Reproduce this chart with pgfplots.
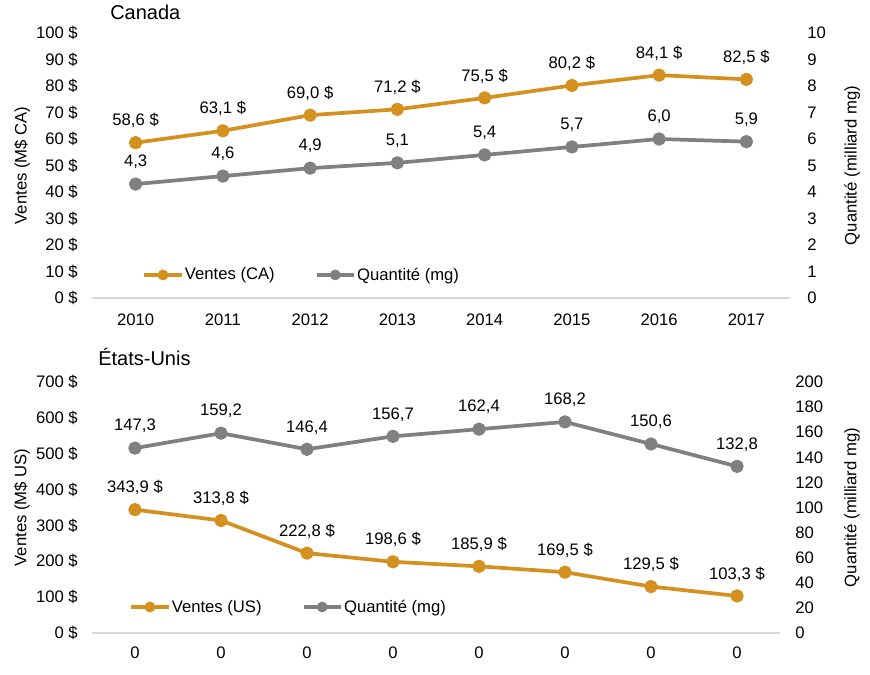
\documentclass[border=0pt]{standalone}
\usepackage{fontspec}
\setmainfont{Liberation Sans}
\usepackage{pgfplots}
\pgfplotsset{compat=1.18}
\usepackage{pgfplotstable}
\definecolor{cOr}{RGB}{213,145,32}
\definecolor{cGr}{RGB}{128,128,128}
\definecolor{cAx}{RGB}{217,217,217}
\newcommand\fs{\fontsize{12.5}{15}\selectfont}
\newcommand\ft{\fontsize{15}{18}\selectfont}

\pgfplotstableread{
x y lab
0 58.6 {58,6 \$}
1 63.1 {63,1 \$}
2 69.0 {69,0 \$}
3 71.2 {71,2 \$}
4 75.5 {75,5 \$}
5 80.2 {80,2 \$}
6 84.1 {84,1 \$}
7 82.5 {82,5 \$}
}\caS
\pgfplotstableread{
x y lab
0 4.3 4,3
1 4.6 4,6
2 4.9 4,9
3 5.1 5,1
4 5.4 5,4
5 5.7 5,7
6 6.0 6,0
7 5.9 5,9
}\caQ
\pgfplotstableread{
x y lab
0 343.9 {343,9 \$}
1 313.8 {313,8 \$}
2 222.8 {222,8 \$}
3 198.6 {198,6 \$}
4 185.9 {185,9 \$}
5 169.5 {169,5 \$}
6 129.5 {129,5 \$}
7 103.3 {103,3 \$}
}\usS
\pgfplotstableread{
x y lab
0 147.3 {147,3}
1 159.2 {159,2}
2 146.4 {146,4}
3 156.7 {156,7}
4 162.4 {162,4}
5 168.2 {168,2}
6 150.6 {150,6}
7 132.8 {132,8}
}\usQ

\pgfplotsset{
  base/.style={scale only axis, xmin=-0.5, xmax=7.5, xtick={0,...,7},
    major tick length=0pt, /pgf/number format/assume math mode=true,
    tick label style={font=\fs}, clip=false, ymin=0},
  leftax/.style={base, axis x line*=bottom, axis y line*=left,
    x axis line style={draw=cAx, line width=0.9pt, -},
    y axis line style={draw=none},
    yticklabel={\pgfmathprintnumber{\tick}~\$},
    yticklabel style={anchor=east, inner sep=0pt, xshift=-10.5pt},
    xticklabel style={anchor=center, inner sep=0pt}},
  rightax/.style={base, axis x line=none, axis y line*=right,
    y axis line style={draw=none},
    yticklabel style={anchor=west, inner sep=0pt}},
  sty/.style={color=#1, line width=2.8pt, mark=*, mark size=3.6pt,
    line join=round, mark options={solid},
    nodes near coords, point meta=explicit symbolic,
    every node near coord/.style={font=\fs, text=black, anchor=center, yshift=16.5pt}},
  leg/.style={legend columns=2,
    legend image code/.code={\draw[mark repeat=2,mark phase=2,##1, mark size=2.6pt] plot coordinates {(0pt,0pt) (14pt,0pt) (28pt,0pt)};},
    legend style={draw=none, fill=none, inner sep=0pt, font=\fs,
      nodes={inner sep=1pt},
      /tikz/every even column/.append style={column sep=29pt}}}
}

\begin{document}
\begin{tikzpicture}
\useasboundingbox (0,0) rectangle (652.5pt,505.5pt);
% ---------- Canada ----------
\begin{axis}[leftax, at={(69pt,282pt)}, anchor=south west,
  width=523.5pt, height=198.75pt, ymax=100, ytick={0,10,...,100},
  xticklabels={2010,2011,2012,2013,2014,2015,2016,2017},
  xticklabel style={yshift=-16.5pt},
  every axis y label/.style={at={(axis description cs:-0.1,0.5)}, rotate=90, anchor=center, font=\fs},
  ylabel={Ventes (M\$ CA)}]
\addplot[sty=cOr] table[x=x, y=y, meta=lab] {\caS};
\end{axis}
\begin{axis}[rightax, at={(69pt,282pt)}, anchor=south west,
  width=523.5pt, height=198.75pt, ymax=10, ytick={0,1,...,10},
  yticklabel style={xshift=12.75pt},
  every axis y label/.style={at={(axis description cs:1.089,0.5)}, rotate=90, anchor=center, font=\fs},
  ylabel={Quantité (milliard mg)},
  leg, legend style={at={(axis description cs:0.072,0.087)}, anchor=west}]
\addlegendimage{color=cOr, line width=2.8pt, mark=*}
\addlegendentry{Ventes (CA)}
\addplot[sty=cGr] table[x=x, y=y, meta=lab] {\caQ};
\addlegendentry{Quantité (mg)}
\end{axis}
\node[anchor=west, font=\ft, inner sep=0pt] at (82.5pt,496.5pt) {Canada};
% ---------- Etats-Unis ----------
\begin{axis}[leftax, at={(69pt,30.75pt)}, anchor=south west,
  width=516pt, height=188.25pt, ymax=700, ytick={0,100,...,700},
  xticklabels={0,0,0,0,0,0,0,0},
  xticklabel style={yshift=-15pt},
  every axis y label/.style={at={(axis description cs:-0.1017,0.5)}, rotate=90, anchor=center, font=\fs},
  ylabel={Ventes (M\$ US)}]
\addplot[sty=cOr] table[x=x, y=y, meta=lab] {\usS};
\end{axis}
\begin{axis}[rightax, at={(69pt,30.75pt)}, anchor=south west,
  width=516pt, height=188.25pt, ymax=200, ytick={0,20,...,200},
  yticklabel style={xshift=11.25pt},
  every axis y label/.style={at={(axis description cs:1.1047,0.5)}, rotate=90, anchor=center, font=\fs},
  ylabel={Quantité (milliard mg)},
  leg, legend style={at={(axis description cs:0.054,0.1036)}, anchor=west}]
\addlegendimage{color=cOr, line width=2.8pt, mark=*}
\addlegendentry{Ventes (US)}
\addplot[sty=cGr] table[x=x, y=y, meta=lab] {\usQ};
\addlegendentry{Quantité (mg)}
\end{axis}
\node[anchor=west, font=\ft, inner sep=0pt] at (73.5pt,237.75pt) {États-Unis};
\end{tikzpicture}
\end{document}
